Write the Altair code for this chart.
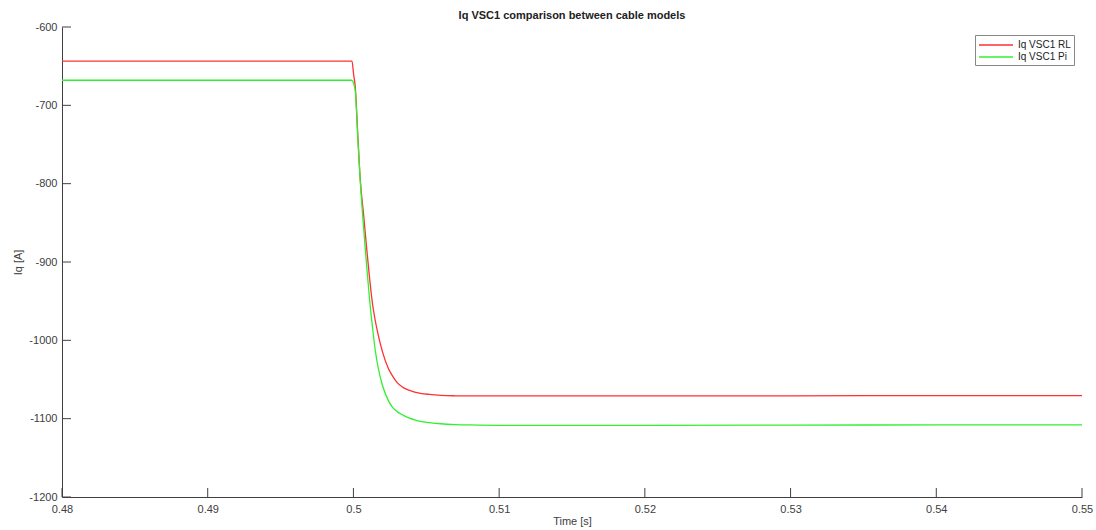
import altair as alt
import pandas as pd

# Red series: Iq VSC1 RL
rl_t = [0.48, 0.4999, 0.50001, 0.50013, 0.5003, 0.50047, 0.5007, 0.5009, 0.5011,
        0.5013, 0.5015, 0.5017, 0.502, 0.5024, 0.5027, 0.503, 0.5034, 0.5038,
        0.5042, 0.5046, 0.5052, 0.506, 0.507, 0.508, 0.51, 0.52, 0.53, 0.54, 0.55]
rl_v = [-643.5, -643.5, -660, -677, -738, -795, -840, -881, -919,
        -952, -975, -993, -1015, -1036, -1046, -1054, -1060, -1063.5,
        -1066, -1067.6, -1069, -1070.2, -1070.8, -1071, -1071, -1071, -1070.8, -1070.6, -1070.5]

# Green series: Iq VSC1 Pi
pi_t = [0.48, 0.4999, 0.50001, 0.50013, 0.5003, 0.50047, 0.5007, 0.5009, 0.5011,
        0.5013, 0.5015, 0.5017, 0.502, 0.5024, 0.5027, 0.503, 0.5034, 0.5038,
        0.5042, 0.5046, 0.5052, 0.506, 0.507, 0.508, 0.51, 0.52, 0.53, 0.54, 0.55]
pi_v = [-668, -668, -672, -682, -742, -797, -857, -903, -946,
        -982, -1013, -1035, -1058, -1077, -1086, -1091, -1095.5, -1099,
        -1101.5, -1103.5, -1105, -1106.5, -1107.5, -1108, -1108.5, -1108.5, -1108.3, -1108, -1108]

series_names = ["Iq VSC1 RL", "Iq VSC1 Pi"]
series_colors = ["#ff3030", "#30f030"]

x_ticks = [0.48, 0.49, 0.5, 0.51, 0.52, 0.53, 0.54, 0.55]
y_ticks = [-1200, -1100, -1000, -900, -800, -700, -600]

df = pd.concat([
    pd.DataFrame({"t": rl_t, "v": rl_v, "s": series_names[0], "o": range(len(rl_t))}),
    pd.DataFrame({"t": pi_t, "v": pi_v, "s": series_names[1], "o": range(len(pi_t))}),
])

W, H = 1020, 470
FONT = "Liberation Sans"
GRAY = "#404040"

xscale = alt.Scale(domain=[0.48, 0.55], nice=False, zero=False)
yscale = alt.Scale(domain=[-1200, -600], nice=False, zero=False)

lines = alt.Chart(df).mark_line(strokeWidth=1.3, interpolate="monotone").encode(
    x=alt.X("t:Q", scale=xscale, title="Time [s]",
            axis=alt.Axis(values=x_ticks, labelExpr="'' + datum.value", grid=False,
                          tickSize=0, labelFlush=False,
                          labelPadding=6, titlePadding=1, domainColor=GRAY,
                          labelColor=GRAY, titleColor=GRAY, labelFontSize=11,
                          titleFontSize=11, titleFontWeight="normal", labelFont=FONT,
                          titleFont=FONT)),
    y=alt.Y("v:Q", scale=yscale, title="Iq [A]",
            axis=alt.Axis(values=y_ticks, labelExpr="'' + datum.value", grid=False,
                          tickSize=0, labelFlush=False,
                          labelPadding=5, titlePadding=5, domainColor=GRAY,
                          labelColor=GRAY, titleColor=GRAY, labelFontSize=11,
                          titleFontSize=11, titleFontWeight="normal", labelFont=FONT,
                          titleFont=FONT)),
    color=alt.Color("s:N", scale=alt.Scale(domain=series_names, range=series_colors),
                    title=None,
                    legend=alt.Legend(orient="none", legendX=W - 107, legendY=8,
                                      symbolType="M-1,0L4.67,0", symbolSize=144,
                                      symbolStrokeWidth=1.5, labelFont=FONT,
                                      labelFontSize=10, labelColor="#222",
                                      strokeColor="#888", fillColor="white",
                                      padding=3, rowPadding=0, labelOffset=26)),
    order="o:Q",
)

xt = pd.DataFrame({"t": x_ticks})
yt = pd.DataFrame({"v": y_ticks})

xtick_rules = alt.Chart(xt).mark_rule(color=GRAY, strokeWidth=1).encode(
    x=alt.X("t:Q", scale=xscale), y=alt.value(H - 9), y2=alt.value(H))
ytick_rules = alt.Chart(yt).mark_rule(color=GRAY, strokeWidth=1).encode(
    y=alt.Y("v:Q", scale=yscale), x=alt.value(0), x2=alt.value(9))

chart = alt.layer(lines, xtick_rules, ytick_rules).properties(
    width=W, height=H,
    title=alt.TitleParams("Iq VSC1 comparison between cable models", font=FONT,
                          fontSize=11, fontWeight="bold", color="#222", offset=0),
    autosize=alt.AutoSizeParams(type="none"),
    padding={"left": 62, "top": 27, "right": 14, "bottom": 33},
).configure_view(stroke=None)

chart.save("out.html", embed_options={"renderer": "svg", "actions": False})
